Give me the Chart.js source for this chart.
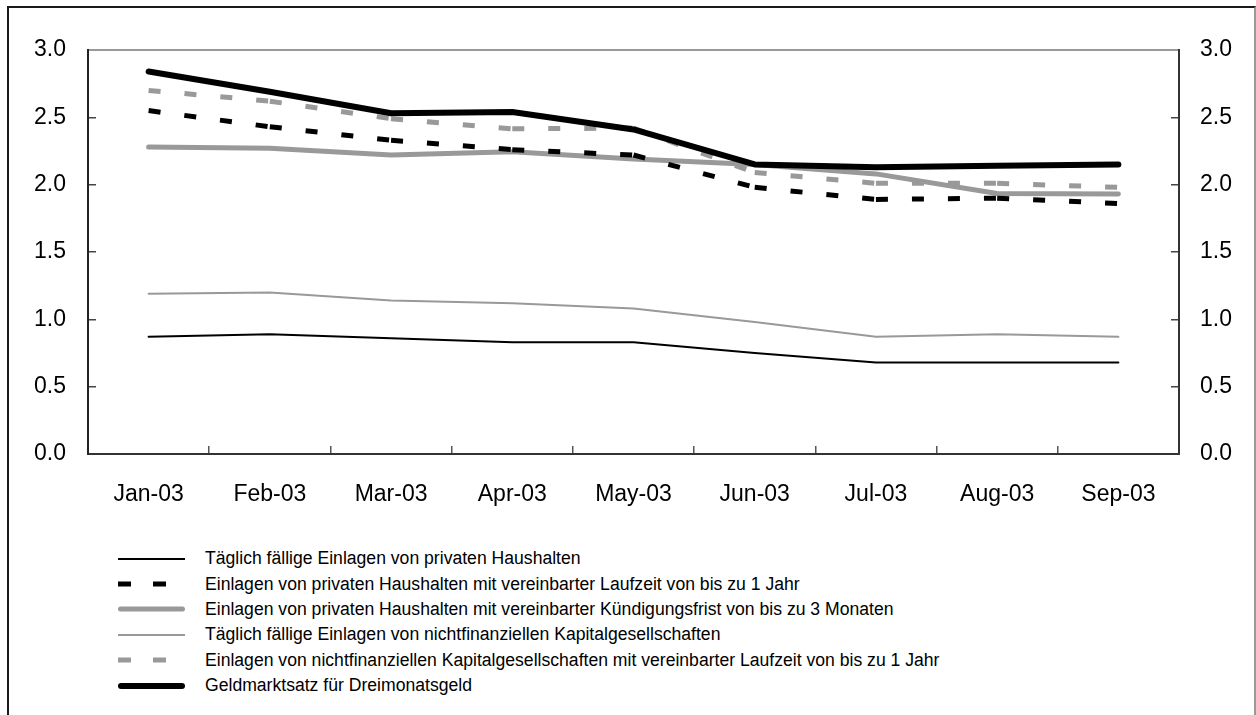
<!DOCTYPE html>
<html>
<head>
<meta charset="utf-8">
<title>Einlagenzinsen 2003</title>
<script src="https://cdn.jsdelivr.net/npm/chart.js@4.4.1/dist/chart.umd.min.js"></script>
<style>
    body { margin: 0; background: #fff; }
    #wrap { position: relative; width: 1256px; height: 715px; overflow: hidden; }
    #frame { position: absolute; left: 7px; top: 6px; width: 1245px; height: 800px; border: 2px solid #1a1a1a; border-right-color: #999; }
    #rateChart { position: absolute; left: 0; top: 0; }
    #legend { position: absolute; left: 118px; top: 546px; font: 17.6px 'Liberation Sans', Arial, sans-serif; color: #000; }
    .row { display: flex; align-items: center; height: 25.4px; white-space: nowrap; }
    .row svg { margin-right: 20px; flex: none; }
</style>
</head>
<body>
<div id="wrap">
    <div id="frame"></div>
    <canvas id="rateChart" width="1256" height="530"></canvas>
    <div id="legend"></div>
</div>
<script>
// Months on the x axis
const months = ['Jan-03', 'Feb-03', 'Mar-03', 'Apr-03', 'May-03', 'Jun-03', 'Jul-03', 'Aug-03', 'Sep-03'];

// Interest rates in %
const hhOvernight  = [0.87, 0.89, 0.86, 0.83, 0.83, 0.75, 0.68, 0.68, 0.68];
const hhTerm       = [2.55, 2.43, 2.33, 2.26, 2.22, 1.98, 1.89, 1.90, 1.86];
const hhNotice     = [2.28, 2.27, 2.22, 2.245, 2.19, 2.15, 2.08, 1.935, 1.93];
const nfcOvernight = [1.19, 1.20, 1.14, 1.12, 1.08, 0.98, 0.87, 0.89, 0.87];
const nfcTerm      = [2.70, 2.62, 2.49, 2.415, 2.42, 2.09, 2.01, 2.01, 1.98];
const moneyMarket  = [2.84, 2.69, 2.53, 2.54, 2.41, 2.15, 2.13, 2.14, 2.15];

const seriesNames = [
    'Täglich fällige Einlagen von privaten Haushalten',
    'Einlagen von privaten Haushalten mit vereinbarter Laufzeit von bis zu 1 Jahr',
    'Einlagen von privaten Haushalten mit vereinbarter Kündigungsfrist von bis zu 3 Monaten',
    'Täglich fällige Einlagen von nichtfinanziellen Kapitalgesellschaften',
    'Einlagen von nichtfinanziellen Kapitalgesellschaften mit vereinbarter Laufzeit von bis zu 1 Jahr',
    'Geldmarktsatz für Dreimonatsgeld'
];

const FONT = "'Liberation Sans', Arial, sans-serif";
const GREY = '#999999';
const DASH = [12, 24];

// restart the dash pattern on every segment (like the original)
const restartDash = { borderDashOffset: c => (c.p0DataIndex % 2) * 0.01 };

function solid(label, data, color, width, order) {
    return {
        label: label, data: data, borderColor: color, backgroundColor: color,
        borderWidth: width, borderCapStyle: 'round', borderJoinStyle: 'round',
        pointRadius: 0, tension: 0, order: order
    };
}

function dashed(label, data, color, width, order) {
    return {
        label: label, data: data, borderColor: color, backgroundColor: color,
        borderWidth: width, borderDash: DASH, borderCapStyle: 'butt',
        pointRadius: 0, tension: 0, order: order, segment: restartDash
    };
}

const datasets = [
    solid(seriesNames[0], hhOvernight, '#000000', 2, 5),
    dashed(seriesNames[1], hhTerm, '#000000', 5, 1),
    solid(seriesNames[2], hhNotice, GREY, 5, 3),
    solid(seriesNames[3], nfcOvernight, GREY, 2, 4),
    dashed(seriesNames[4], nfcTerm, GREY, 5, 2),
    solid(seriesNames[5], moneyMarket, '#000000', 6, 0)
];

const tickFont = { family: FONT, size: 23 };

new Chart(document.getElementById('rateChart'), {
    type: 'line',
    data: { labels: months, datasets: datasets },
    options: {
        responsive: false,
        animation: false,
        devicePixelRatio: 1,
        layout: { padding: { top: 50, left: 0, right: 0, bottom: 0 } },
        plugins: { legend: { display: false }, tooltip: { enabled: false } },
        scales: {
            x: {
                position: 'bottom',
                offset: true,
                grid: { display: true, drawOnChartArea: false, offset: true, tickLength: -8, color: '#555', lineWidth: 1.5 },
                border: { color: '#333', width: 2 },
                ticks: { font: tickFont, color: '#000', padding: 35, maxRotation: 0, autoSkip: false },
                afterFit: s => { s.height = 76; }
            },
            xTop: {
                position: 'top',
                type: 'category',
                grid: { display: false, drawTicks: false },
                border: { color: GREY, width: 2 },
                ticks: { display: false },
                afterFit: s => { s.height = 0; }
            },
            y: {
                position: 'left',
                min: 0, max: 3,
                grid: { drawOnChartArea: false, tickLength: -8, color: '#444', lineWidth: 1.5 },
                border: { color: '#222', width: 2 },
                ticks: { stepSize: 0.5, font: tickFont, color: '#000', padding: 30, callback: v => v.toFixed(1) },
                afterFit: s => { s.width = 88; }
            },
            y2: {
                position: 'right',
                min: 0, max: 3,
                grid: { drawOnChartArea: false, tickLength: -8, color: '#444', lineWidth: 1.5 },
                border: { color: '#333', width: 2 },
                ticks: { stepSize: 0.5, font: tickFont, color: '#000', padding: 29, callback: v => v.toFixed(1) },
                afterFit: s => { s.width = 77; }
            }
        }
    }
});

// Build the legend as a list under the chart
function buildLegend() {
    const box = document.getElementById('legend');
    const ns = 'http://www.w3.org/2000/svg';
    datasets.forEach(ds => {
        const row = document.createElement('div');
        row.className = 'row';
        const svg = document.createElementNS(ns, 'svg');
        svg.setAttribute('width', '67');
        svg.setAttribute('height', '10');
        const line = document.createElementNS(ns, 'line');
        const round = ds.borderCapStyle === 'round' && ds.borderWidth > 2;
        const inset = round ? ds.borderWidth / 2 : 0;
        line.setAttribute('x1', inset);
        line.setAttribute('x2', 67 - inset);
        line.setAttribute('y1', '5');
        line.setAttribute('y2', '5');
        line.setAttribute('stroke', ds.borderColor);
        line.setAttribute('stroke-width', ds.borderWidth);
        line.setAttribute('stroke-linecap', round ? 'round' : 'butt');
        if (ds.borderDash) line.setAttribute('stroke-dasharray', '13 22');
        svg.appendChild(line);
        const text = document.createElement('span');
        text.textContent = ds.label;
        row.appendChild(svg);
        row.appendChild(text);
        box.appendChild(row);
    });
}

buildLegend();
</script>
</body>
</html>
